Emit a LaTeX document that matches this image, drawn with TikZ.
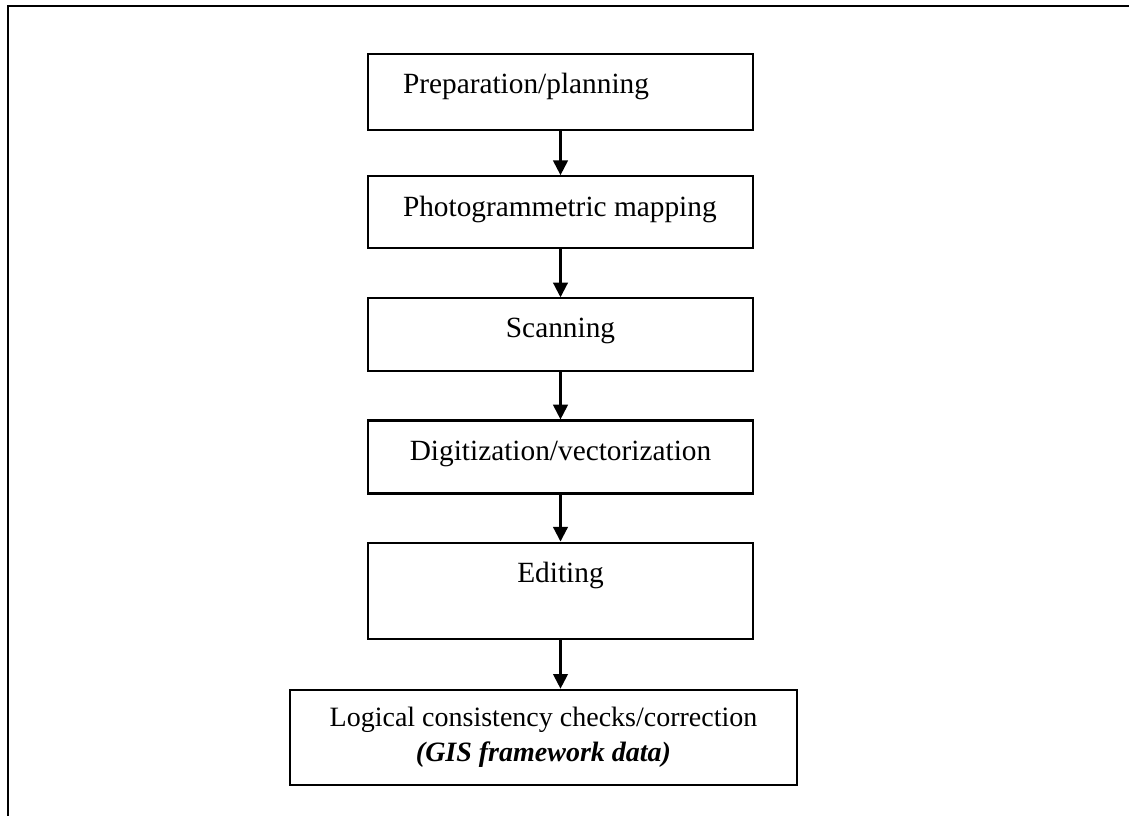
\documentclass[tikz,border=0pt]{standalone}
\usepackage{fontspec}
\setmainfont{Liberation Serif}
\usepackage{tikz}
\usetikzlibrary{positioning, arrows.meta}
\newcommand{\lefttxt}[1]{\makebox[236.25pt][l]{#1}}

\begin{document}
\begin{tikzpicture}[
  x=0.75pt, y=-0.75pt,
  box/.style={rectangle, draw=black, line width=1.6pt, minimum width=288.75pt,
              inner sep=0pt, font=\fontsize{22}{26.25}\selectfont},
  arr/.style={-{Triangle[length=11pt,width=11pt]}, draw=black, line width=1.6pt},
  frame/.style={draw=black, line width=1.6pt}
]
  \useasboundingbox (0,0) rectangle (1129,816);
  \draw[frame] (8,816) |- (1129,6);
  \node[box, anchor=north, text height=29.25pt, text depth=27.75pt] (prep) at (560.5,53) {\lefttxt{Preparation/planning}};
  \node[box, below=33pt of prep, text height=30pt, text depth=24pt] (photo) {\lefttxt{Photogrammetric mapping}};
  \node[box, below=36pt of photo, text height=29.25pt, text depth=25.5pt] (scan) {Scanning};
  \node[box, below=35.25pt of scan, text height=30pt, text depth=24.75pt] (digit) {Digitization/vectorization};
  \node[box, below=35.25pt of digit, text height=30pt, text depth=42pt] (edit) {Editing};
  \node[box, below=36.75pt of edit, xshift=-12.75pt, minimum width=380.25pt,
        minimum height=71.25pt, align=center, font=\fontsize{21}{26}\selectfont] (check) {Logical consistency checks/correction\\
        \textbf{\textit{(GIS framework data)}}};
  \draw[arr] (prep)--(photo); \draw[arr] (photo)--(scan); \draw[arr] (scan)--(digit);
  \draw[arr] (digit)--(edit); \draw[arr] (edit.south)--(edit.south |- check.north);
\end{tikzpicture}
\end{document}
